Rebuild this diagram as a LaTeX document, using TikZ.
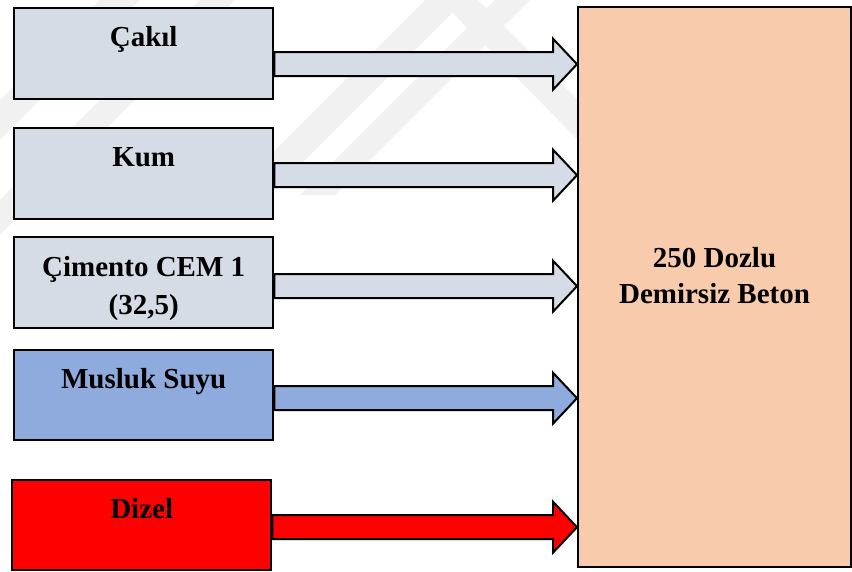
\documentclass[tikz,border=0pt]{standalone}
\usepackage{fontspec}
\setmainfont{Liberation Serif}
\usepackage{tikz}
\usetikzlibrary{calc,positioning}
\definecolor{grau}{HTML}{D6DCE5}
\definecolor{blau}{HTML}{8FAADC}
\definecolor{rot}{HTML}{FF0000}
\definecolor{lachs}{HTML}{F8CBAD}
\definecolor{wasser}{HTML}{F1F1F1}
\tikzset{
  srcbox/.style={draw=black, line width=2.4pt, anchor=north west, inner sep=0pt,
    minimum width=259pt, minimum height=91pt},
  lbl/.style={anchor=base, align=center, inner sep=0pt,
    font=\fontsize{29}{38}\selectfont\bfseries},
  fat/.style={draw=black, line width=2pt, line join=miter}
}
\newcommand{\fatarrow}[3]{%
  \draw[fat, fill=#3] ([yshift=12]#1) -- ([xshift=-24,yshift=12]#2) -- ([xshift=-24,yshift=25.5]#2)
    -- (#2) -- ([xshift=-24,yshift=-25.5]#2) -- ([xshift=-24,yshift=-12]#2) -- ([yshift=-12]#1) -- cycle;}

\begin{document}
\begin{tikzpicture}[x=1pt,y=-1pt]
\useasboundingbox (0,0) rectangle (852,572);
\fill[wasser] (0,100) -- (100,0) -- (140,0) -- (0,140) -- cycle;
\fill[wasser] (0,200) -- (200,0) -- (235,0) -- (0,235) -- cycle;
\fill[wasser] (230,195) -- (425,0) -- (465,0) -- (270,195) -- cycle;
\fill[wasser] (300,195) -- (495,0) -- (530,0) -- (335,195) -- cycle;
\fill[wasser] (440,0) -- (478,0) -- (578,100) -- (578,140) -- cycle;

\node[draw=black, line width=2pt, fill=lachs, minimum width=273pt, minimum height=560pt,
  inner sep=0pt] (beton) at (714.5,287) {};
\node[lbl, font=\fontsize{29}{36}\selectfont\bfseries] (betont) at ([yshift=-17]beton.center)
  {250 Dozlu\\Demirsiz Beton};

\node[srcbox, fill=grau] (cakil) at (13,7) {};
\node[srcbox, fill=grau] (kum) at (13,127) {};
\node[srcbox, fill=grau] (cem) at (13,236) {};
\node[srcbox, fill=blau, minimum height=90pt] (su) at (13,349) {};
\node[srcbox, fill=rot, minimum height=90pt] (dizel) at (11,479) {};

\node[lbl] (cakilt) at ([yshift=-40]cakil.north) {Çakıl};
\node[lbl] (kumt) at ([yshift=-40]kum.north) {Kum};
\node[lbl] (cemt) at ([yshift=-79]cem.north) {Çimento CEM 1\\(32,5)};
\node[lbl] (sut) at ([yshift=-39]su.north) {Musluk Suyu};
\node[lbl] (dizelt) at ([yshift=-39]dizel.north) {Dizel};

\coordinate (t1) at ([yshift=-10.5]cakil.east); \coordinate (h1) at (beton.west |- t1);
\coordinate (t2) at ([yshift=-1.5]kum.east);    \coordinate (h2) at (beton.west |- t2);
\coordinate (t3) at ([yshift=-3.5]cem.east);    \coordinate (h3) at (beton.west |- t3);
\coordinate (t4) at ([yshift=-3]su.east);       \coordinate (h4) at (beton.west |- t4);
\coordinate (t5) at ([yshift=-2]dizel.east);    \coordinate (h5) at (beton.west |- t5);
\fatarrow{t1}{h1}{grau}
\fatarrow{t2}{h2}{grau}
\fatarrow{t3}{h3}{grau}
\fatarrow{t4}{h4}{blau}
\fatarrow{t5}{h5}{rot}
\end{tikzpicture}
\end{document}
